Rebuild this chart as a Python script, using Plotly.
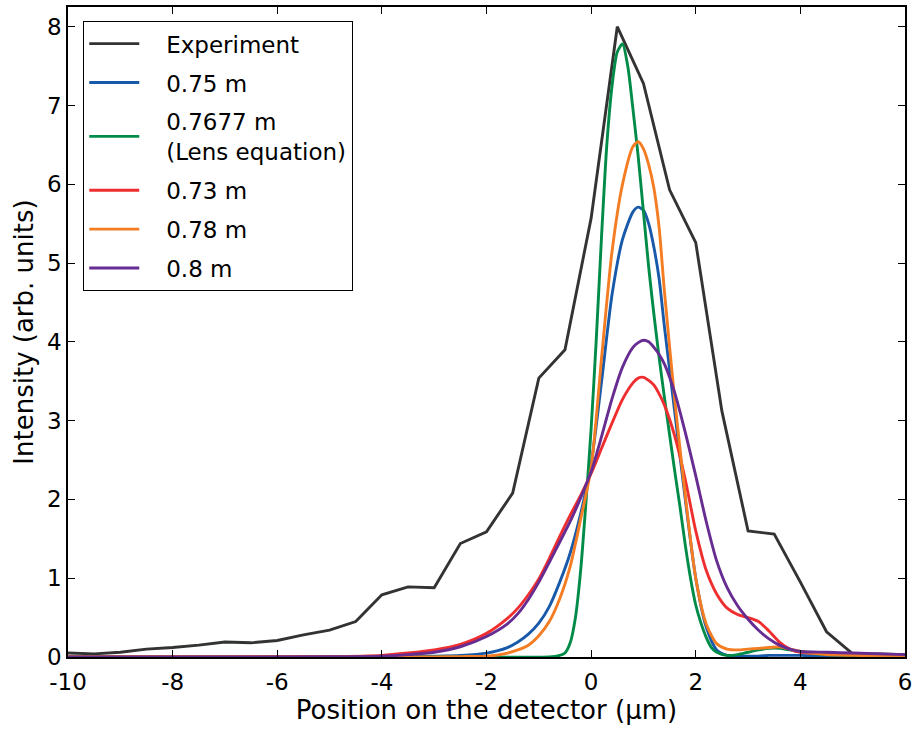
import plotly.graph_objects as go

# Experiment
exp_x = [-10, -9.5, -9, -8.5, -8, -7.5, -7, -6.5, -6, -5.5, -5, -4.5, -4, -3.5, -3, -2.5, -2, -1.5, -1,
         -0.5, 0, 0.5, 1, 1.5, 2, 2.5, 3, 3.5, 4, 4.5, 5, 5.5, 6]
exp_y = [0.05, 0.04, 0.06, 0.10, 0.12, 0.15, 0.19, 0.18, 0.21, 0.28, 0.34, 0.45, 0.79, 0.89, 0.88, 1.44,
         1.59, 2.08, 3.54, 3.90, 5.57, 8.00, 7.28, 5.93, 5.26, 3.12, 1.60, 1.56, 0.95, 0.32, 0.04, 0.04, 0.03]

# shared grid for the broader simulated curves
sim_x = [-10, -5, -4, -3.5, -3, -2.5, -2,
         -1.6, -1.4, -1.2, -1.0, -0.8, -0.6, -0.4, -0.2,
         0, 0.2, 0.4, 0.6, 0.8, 0.9, 1.0, 1.1, 1.2, 1.3, 1.4,
         1.6, 1.8, 2.0, 2.2, 2.4, 2.6, 2.8, 3.0,
         3.2, 3.4, 3.6, 3.8, 4.0, 4.5, 5, 6]

# 0.75 m
blue_y = [0, 0, 0, 0.005, 0.01, 0.02, 0.05,
          0.12, 0.19, 0.29, 0.43, 0.64, 0.95, 1.32, 1.82,
          2.45, 3.5, 4.6, 5.3, 5.65, 5.71, 5.67, 5.5, 5.2, 4.8, 4.2,
          3.1, 2.0, 1.0, 0.38, 0.09, 0.02, 0.01, 0.01,
          0.01, 0.02, 0.02, 0.02, 0.02, 0.01, 0.01, 0.01]

# 0.73 m
red_y = [0, 0.005, 0.02, 0.05, 0.09, 0.16, 0.30,
         0.49, 0.62, 0.79, 0.99, 1.25, 1.53, 1.8, 2.05,
         2.33, 2.65, 2.97, 3.27, 3.48, 3.54, 3.55, 3.51, 3.45, 3.34, 3.2,
         2.8, 2.25, 1.6, 1.1, 0.8, 0.62, 0.54, 0.5,
         0.45, 0.33, 0.19, 0.1, 0.06, 0.04, 0.03, 0.02]

# 0.78 m
orange_y = [0, 0, 0, 0, 0, 0.005, 0.01,
            0.05, 0.09, 0.15, 0.27, 0.45, 0.74, 1.15, 1.75,
            2.4, 3.8, 5.15, 6.0, 6.48, 6.54, 6.45, 6.25, 5.95, 5.45, 4.65,
            3.25, 2.05, 1.0, 0.42, 0.17, 0.1, 0.09, 0.1,
            0.11, 0.12, 0.13, 0.1, 0.07, 0.03, 0.02, 0.01]

# 0.8 m
purple_y = [0, 0.003, 0.01, 0.03, 0.06, 0.13, 0.26,
            0.42, 0.55, 0.73, 0.95, 1.2, 1.46, 1.72, 2.02,
            2.35, 2.8, 3.28, 3.68, 3.93, 3.99, 4.02, 4.0, 3.93, 3.84, 3.72,
            3.35, 2.85, 2.3, 1.72, 1.22, 0.88, 0.65, 0.48,
            0.34, 0.23, 0.15, 0.1, 0.07, 0.06, 0.05, 0.03]

# 0.7677 m (lens equation) - narrow curve, finer grid
green_x = [-10, -2, -0.8, -0.6, -0.5, -0.4, -0.3, -0.2, -0.1, 0, 0.1, 0.2, 0.3, 0.4, 0.5, 0.6, 0.7, 0.8,
           0.9, 1.0, 1.1, 1.2, 1.3, 1.4, 1.5, 1.6, 1.7, 1.8, 1.9, 2.0, 2.1, 2.2, 2.3, 2.4, 2.6, 2.8, 3.0,
           3.2, 3.4, 3.6, 3.8, 4.0, 4.5, 5, 6]
green_y = [0, 0, 0, 0.02, 0.05, 0.18, 0.5, 1.1, 1.95, 2.9, 4.05, 5.35, 6.5, 7.25, 7.68, 7.78, 7.5, 6.95,
           6.35, 5.65, 4.95, 4.35, 3.8, 3.3, 2.82, 2.35, 1.9, 1.42, 1.0, 0.66, 0.43, 0.25, 0.12, 0.06,
           0.02, 0.03, 0.06, 0.09, 0.11, 0.11, 0.09, 0.07, 0.03, 0.02, 0.01]

x_ticks = [-10, -8, -6, -4, -2, 0, 2, 4, 6]
x_tick_text = ["-10", "-8", "-6", "-4", "-2", "0", "2", "4", "6"]
y_ticks = [0, 1, 2, 3, 4, 5, 6, 7, 8]

PAD = "\u00a0" * 3
series = [
    ("Experiment", exp_x, exp_y, "#333333", "linear"),
    ("0.75 m", sim_x, blue_y, "#185AA9", "spline"),
    ("0.7677 m<br>(Lens equation)", green_x, green_y, "#008C48", "spline"),
    ("0.73 m", sim_x, red_y, "#EE2E2F", "spline"),
    ("0.78 m", sim_x, orange_y, "#F47D23", "spline"),
    ("0.8 m", sim_x, purple_y, "#662C91", "spline"),
]

fig = go.Figure()
for i, (name, xs, ys, col, shape) in enumerate(series):
    line = dict(color=col, width=2.9, shape=shape)
    if shape == "spline":
        line["smoothing"] = 0.7
    label = "<br>".join(PAD + part for part in name.split("<br>"))
    fig.add_trace(go.Scatter(x=xs, y=ys, mode="lines", name=label, line=line,
                             legendgroup=f"g{i}"))

FONT = "DejaVu Sans"
axis_common = dict(
    showline=True, linecolor="black", linewidth=1.5, mirror="ticks",
    ticks="inside", tickcolor="black", ticklen=7, tickwidth=1.2,
    showgrid=False, zeroline=False,
    tickfont=dict(family=FONT, size=23, color="black"),
)
fig.update_xaxes(range=[-10, 6], tickvals=x_ticks, ticktext=x_tick_text,
                 ticklabelstandoff=4,
                 title=dict(text="Position on the detector (μm)",
                            font=dict(family=FONT, size=26, color="black"), standoff=6),
                 **axis_common)
fig.update_yaxes(range=[0, 8.25], tickvals=y_ticks,
                 title=dict(text="Intensity (arb. units)",
                            font=dict(family=FONT, size=26, color="black"), standoff=6),
                 **axis_common)

fig.update_layout(
    width=917, height=735,
    margin=dict(l=68, r=10, t=5, b=78),
    plot_bgcolor="white", paper_bgcolor="white",
    font=dict(family=FONT, size=23, color="black"),
    legend=dict(x=0.018, y=0.9785, xanchor="left", yanchor="top",
                bordercolor="black", borderwidth=1.2, bgcolor="white",
                itemwidth=50, tracegroupgap=6,
                font=dict(family=FONT, size=23, color="black")),
)

fig.write_html("out.html", config={"displayModeBar": False},
               post_script="document.body.style.margin='0';")
